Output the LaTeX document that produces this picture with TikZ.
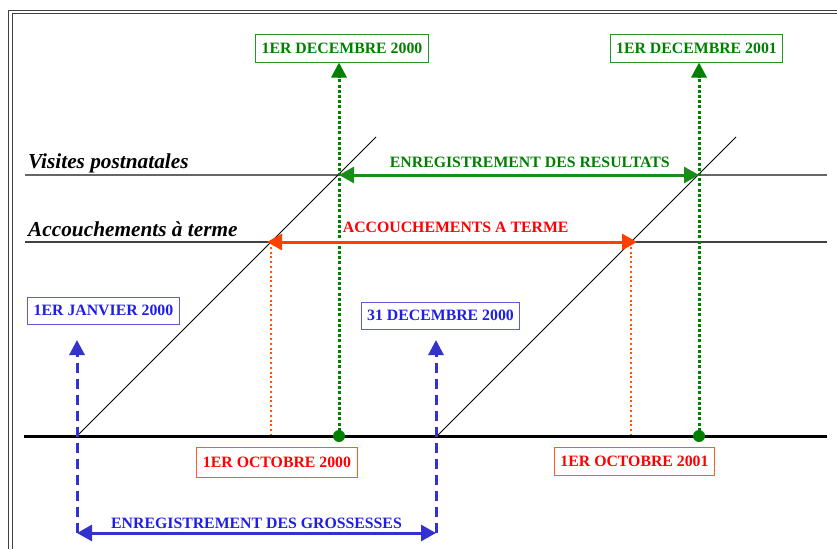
\documentclass[tikz,border=0pt]{standalone}
\usepackage{fontspec}
\setmainfont{Liberation Serif}
\usetikzlibrary{arrows.meta}
\usetikzlibrary{positioning}

\definecolor{vert}{RGB}{0,128,0}
\definecolor{rouge}{RGB}{255,0,0}
\definecolor{flamme}{RGB}{255,64,0}
\definecolor{bleu}{RGB}{51,51,204}
\definecolor{bleutexte}{RGB}{30,30,230}

\newcommand\etiq{\bfseries\fontsize{15.8pt}{18pt}\selectfont}
\newcommand\titre{\bfseries\itshape\fontsize{21.3pt}{25pt}\selectfont}

\tikzset{
  boite/.style={draw, line width=1pt, inner xsep=6pt, inner ysep=0pt, minimum height=28pt, font=\etiq},
  boitevert/.style={boite, draw=vert!85, text=vert},
  boitebleu/.style={boite, draw=bleu!80, text=bleutexte},
  boiterouge/.style={boite, draw=flamme!85, text=rouge},
  pointvert/.style={vert, line width=3pt, dash pattern=on 3pt off 2.2pt},
  pointrouge/.style={flamme!90, line width=2pt, dash pattern=on 2pt off 2.8pt},
  tiretbleu/.style={bleu, line width=3pt, dash pattern=on 10pt off 6pt},
  fleche/.style={-{Triangle[length=15pt,width=15pt]}},
  doublefleche/.style={{Triangle[length=15pt,width=16pt]}-{Triangle[length=15pt,width=16pt]}}
}

\begin{document}
\begin{tikzpicture}[x=1pt,y=-1pt]
\useasboundingbox (0,0) rectangle (837,549);

% cadre double
\draw[black!75, line width=0.9pt] (8.5,549) -- (8.5,10) -- (837,10);
\draw[black!75, line width=0.9pt] (12,549) -- (12,13.5) -- (837,13.5);

% lignes horizontales
\coordinate (visG) at (25,175);  \coordinate (visD) at (827,175);
\coordinate (accG) at (25,242);  \coordinate (accD) at (827,242);
\coordinate (axeG) at (24,436);  \coordinate (axeD) at (827,436);
\draw[black!60, line width=1.3pt] (visG) -- (visD);
\draw[black!75, line width=1.3pt] (accG) -- (accD);
\node[anchor=base west, inner sep=0pt, font=\titre] (vis) at (28,168) {Visites postnatales};
\node[anchor=base west, inner sep=0pt, font=\titre] (acc) at (28,236) {Accouchements à terme};

% diagonales
\coordinate (d1) at (77,436);  \coordinate (f1) at (376,137);
\coordinate (d2) at (437,436); \coordinate (f2) at (736,137);
\draw[black, line width=0.8pt] (d1) -- (f1);
\draw[black, line width=0.8pt] (d2) -- (f2);

% pointilles rouges
\coordinate (r1) at (271,242); \coordinate (r2) at (631,242);
\draw[pointrouge] (r1) -- (r1 |- axeG);
\draw[pointrouge] (r2) -- (r2 |- axeG);

% axe du temps
\draw[black, line width=3pt] (axeG) -- (axeD);

% dates vertes
\node[boitevert] (dec00) at (342,48) {1ER DECEMBRE 2000};
\node[boitevert] (dec01) at (696.5,48) {1ER DECEMBRE 2001};
\node[circle, fill=vert, inner sep=0pt, minimum size=12pt] (pt1) at (339,436) {};
\node[circle, fill=vert, inner sep=0pt, minimum size=12pt] (pt2) at (699,436) {};
\draw[pointvert, fleche] (pt1.center) -- (pt1 |- dec00.south);
\draw[pointvert, fleche] (pt2.center) -- (pt2 |- dec01.south);

% periode des resultats
\coordinate (res1) at (339,175); \coordinate (res2) at (699,175);
\path[vert!90!white, line width=3pt, doublefleche] (res1) edge node[pos=0.53, above=6pt, inner sep=0pt, font=\etiq, text=vert] (lres) {ENREGISTREMENT DES RESULTATS} (res2);

% periode des accouchements
\coordinate (ac1) at (267,242); \coordinate (ac2) at (637,242);
\path[flamme, line width=3pt, doublefleche] (ac1) edge node[pos=0.51, above=8pt, inner sep=0pt, font=\etiq, text=rouge] (lacc) {ACCOUCHEMENTS A TERME} (ac2);

% dates bleues
\node[boitebleu, minimum height=27pt] (jan00) at (103.5,310.5) {1ER JANVIER 2000};
\node[boitebleu, minimum height=27pt] (dec31) at (440.5,315.5) {31 DECEMBRE 2000};
\coordinate (b1bas) at (77,533); \coordinate (b1haut) at (77,340);
\coordinate (b2bas) at (436,533); \coordinate (b2haut) at (436,340);
\draw[tiretbleu, fleche] (b1bas) -- (b1haut);
\draw[tiretbleu, fleche] (b2bas) -- (b2haut);

% periode des grossesses
\path[bleu, line width=3pt, doublefleche] (b1bas) edge node[above=3pt, inner sep=0pt, font=\etiq, text=bleutexte] (lgro) {ENREGISTREMENT DES GROSSESSES} (b2bas);

% dates rouges
\node[boiterouge, minimum height=30pt] (oct00) at (277,462) {1ER OCTOBRE 2000};
\node[boiterouge] (oct01) at (634.5,461) {1ER OCTOBRE 2001};
\end{tikzpicture}
\end{document}
